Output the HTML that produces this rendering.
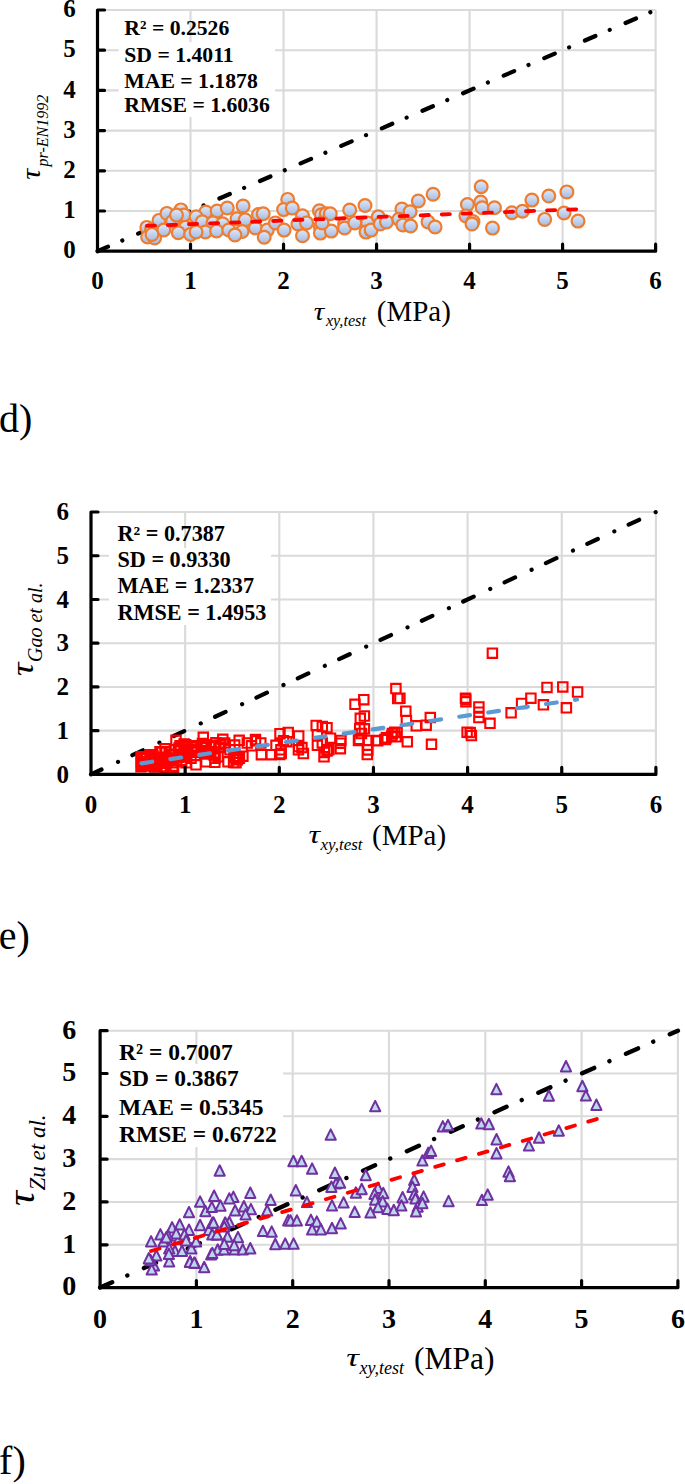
<!DOCTYPE html><html><head><meta charset="utf-8"><style>html,body{margin:0;padding:0;background:#fff;width:685px;height:1484px;overflow:hidden}svg{display:block}text{font-family:"Liberation Serif",serif}</style></head><body>
<svg width="685" height="1484" viewBox="0 0 685 1484">
<defs><linearGradient id="g1" x1="0" y1="0" x2="0" y2="1"><stop offset="0" stop-color="#e2e9f6"/><stop offset="1" stop-color="#a3bbe4"/></linearGradient></defs>
<path d="M190.52 10V251.2M97.5 211H655.62M283.54 10V251.2M97.5 170.8H655.62M376.56 10V251.2M97.5 130.6H655.62M469.58 10V251.2M97.5 90.4H655.62M562.6 10V251.2M97.5 50.2H655.62M655.62 10V251.2M97.5 10H655.62" stroke="#dadada" stroke-width="2.1" fill="none"/>
<rect x="118.6" y="42" width="156.4" height="75" fill="#fff"/>
<path d="M97.5 251.2L655.62 10" stroke="#000" stroke-width="4.2" fill="none" stroke-linecap="round" stroke-dasharray="11.4 15.6 0.01 17.24"/>
<g fill="url(#g1)" stroke="#ed7d31" stroke-width="2.2">
<circle cx="146.8" cy="227.4" r="6.4"/>
<circle cx="151.6" cy="229.6" r="6.4"/>
<circle cx="147.6" cy="237" r="6.4"/>
<circle cx="154.6" cy="237.9" r="6.4"/>
<circle cx="159" cy="220.4" r="6.4"/>
<circle cx="166.9" cy="213.4" r="6.4"/>
<circle cx="163.8" cy="230" r="6.4"/>
<circle cx="172.6" cy="221.3" r="6.4"/>
<circle cx="180.9" cy="209.9" r="6.4"/>
<circle cx="184" cy="215.1" r="6.4"/>
<circle cx="176.5" cy="215.1" r="6.4"/>
<circle cx="185.3" cy="227.4" r="6.4"/>
<circle cx="178.3" cy="232.7" r="6.4"/>
<circle cx="190.6" cy="234.4" r="6.4"/>
<circle cx="152" cy="234.4" r="6.4"/>
<circle cx="205.8" cy="212.1" r="6.4"/>
<circle cx="217.1" cy="211.1" r="6.4"/>
<circle cx="227.3" cy="208" r="6.4"/>
<circle cx="243.1" cy="206" r="6.4"/>
<circle cx="196.1" cy="216.7" r="6.4"/>
<circle cx="202.3" cy="221.8" r="6.4"/>
<circle cx="213" cy="222.8" r="6.4"/>
<circle cx="222.7" cy="223.8" r="6.4"/>
<circle cx="237" cy="218.7" r="6.4"/>
<circle cx="245.2" cy="219.7" r="6.4"/>
<circle cx="205.3" cy="232" r="6.4"/>
<circle cx="216.6" cy="231" r="6.4"/>
<circle cx="228.8" cy="230" r="6.4"/>
<circle cx="242.1" cy="231.5" r="6.4"/>
<circle cx="255.4" cy="227.9" r="6.4"/>
<circle cx="258.5" cy="214.6" r="6.4"/>
<circle cx="196.1" cy="232" r="6.4"/>
<circle cx="235" cy="235" r="6.4"/>
<circle cx="263.2" cy="213.7" r="6.4"/>
<circle cx="287.7" cy="199.4" r="6.4"/>
<circle cx="283.6" cy="209.6" r="6.4"/>
<circle cx="292.3" cy="208.1" r="6.4"/>
<circle cx="267.3" cy="230.1" r="6.4"/>
<circle cx="264.2" cy="237.2" r="6.4"/>
<circle cx="275.4" cy="222.9" r="6.4"/>
<circle cx="284.1" cy="230.1" r="6.4"/>
<circle cx="302.5" cy="215.8" r="6.4"/>
<circle cx="297.9" cy="224" r="6.4"/>
<circle cx="306.6" cy="222.9" r="6.4"/>
<circle cx="302.5" cy="235.7" r="6.4"/>
<circle cx="319.4" cy="210.7" r="6.4"/>
<circle cx="321.4" cy="214.7" r="6.4"/>
<circle cx="320.4" cy="227" r="6.4"/>
<circle cx="320.4" cy="233.1" r="6.4"/>
<circle cx="326.2" cy="213.7" r="6.4"/>
<circle cx="330.3" cy="213.7" r="6.4"/>
<circle cx="331.3" cy="231.1" r="6.4"/>
<circle cx="322.1" cy="222.9" r="6.4"/>
<circle cx="344.6" cy="224" r="6.4"/>
<circle cx="344.6" cy="228" r="6.4"/>
<circle cx="349.7" cy="210.1" r="6.4"/>
<circle cx="354.8" cy="222.9" r="6.4"/>
<circle cx="365" cy="205.5" r="6.4"/>
<circle cx="367.6" cy="222.9" r="6.4"/>
<circle cx="366" cy="232.1" r="6.4"/>
<circle cx="371.1" cy="230.1" r="6.4"/>
<circle cx="378.3" cy="216.8" r="6.4"/>
<circle cx="380.3" cy="223.9" r="6.4"/>
<circle cx="386.5" cy="221.9" r="6.4"/>
<circle cx="401.9" cy="209.1" r="6.4"/>
<circle cx="398.8" cy="219.3" r="6.4"/>
<circle cx="402.9" cy="225" r="6.4"/>
<circle cx="410.1" cy="211.7" r="6.4"/>
<circle cx="410.6" cy="226" r="6.4"/>
<circle cx="418.3" cy="201" r="6.4"/>
<circle cx="433.1" cy="194.3" r="6.4"/>
<circle cx="428" cy="221.9" r="6.4"/>
<circle cx="435.1" cy="227" r="6.4"/>
<circle cx="481.2" cy="186.8" r="6.4"/>
<circle cx="467.4" cy="204.6" r="6.4"/>
<circle cx="480.7" cy="202.1" r="6.4"/>
<circle cx="482.2" cy="207.7" r="6.4"/>
<circle cx="494.5" cy="207.7" r="6.4"/>
<circle cx="465.9" cy="215.9" r="6.4"/>
<circle cx="473" cy="221.5" r="6.4"/>
<circle cx="472" cy="224" r="6.4"/>
<circle cx="492.5" cy="228.1" r="6.4"/>
<circle cx="511.9" cy="212.8" r="6.4"/>
<circle cx="522.5" cy="211.2" r="6.4"/>
<circle cx="531.9" cy="200.1" r="6.4"/>
<circle cx="548.8" cy="196" r="6.4"/>
<circle cx="544.7" cy="219.4" r="6.4"/>
<circle cx="566.9" cy="191.9" r="6.4"/>
<circle cx="564" cy="213" r="6.4"/>
<circle cx="578" cy="221.1" r="6.4"/>
</g>
<path d="M146.8 225.9L576.3 209.3" stroke="#ff0000" stroke-width="3.8" fill="none" stroke-linecap="round" stroke-dasharray="8.2 12.88"/>
<path d="M97.5 10V251.2H655.62M97.5 251.2h7M97.5 251.2v-7M97.5 211h7M190.52 251.2v-7M97.5 170.8h7M283.54 251.2v-7M97.5 130.6h7M376.56 251.2v-7M97.5 90.4h7M469.58 251.2v-7M97.5 50.2h7M562.6 251.2v-7M97.5 10h7M655.62 251.2v-7" stroke="#000" stroke-width="3.2" fill="none" stroke-linecap="round" stroke-linejoin="round"/>
<text x="75.7" y="258.45" font-size="25" font-weight="bold" text-anchor="end">0</text>
<text x="97.5" y="288.55" font-size="25" font-weight="bold" text-anchor="middle">0</text>
<text x="75.7" y="218.25" font-size="25" font-weight="bold" text-anchor="end">1</text>
<text x="190.52" y="288.55" font-size="25" font-weight="bold" text-anchor="middle">1</text>
<text x="75.7" y="178.05" font-size="25" font-weight="bold" text-anchor="end">2</text>
<text x="283.54" y="288.55" font-size="25" font-weight="bold" text-anchor="middle">2</text>
<text x="75.7" y="137.85" font-size="25" font-weight="bold" text-anchor="end">3</text>
<text x="376.56" y="288.55" font-size="25" font-weight="bold" text-anchor="middle">3</text>
<text x="75.7" y="97.65" font-size="25" font-weight="bold" text-anchor="end">4</text>
<text x="469.58" y="288.55" font-size="25" font-weight="bold" text-anchor="middle">4</text>
<text x="75.7" y="57.45" font-size="25" font-weight="bold" text-anchor="end">5</text>
<text x="562.6" y="288.55" font-size="25" font-weight="bold" text-anchor="middle">5</text>
<text x="75.7" y="17.25" font-size="25" font-weight="bold" text-anchor="end">6</text>
<text x="655.62" y="288.55" font-size="25" font-weight="bold" text-anchor="middle">6</text>
<text x="124.3" y="35" font-size="21.7" font-weight="bold">R² = 0.2526</text>
<text x="124.3" y="62" font-size="21.7" font-weight="bold">SD = 1.4011</text>
<text x="124.3" y="87.8" font-size="21.7" font-weight="bold">MAE = 1.1878</text>
<text x="124.3" y="112.3" font-size="21.7" font-weight="bold">RMSE = 1.6036</text>
<path d="M185.15 512.02V774.4M91 730.67H655.9M279.3 512.02V774.4M91 686.94H655.9M373.45 512.02V774.4M91 643.21H655.9M467.6 512.02V774.4M91 599.48H655.9M561.75 512.02V774.4M91 555.75H655.9M655.9 512.02V774.4M91 512.02H655.9" stroke="#dadada" stroke-width="2.1" fill="none"/>
<rect x="109" y="548" width="162" height="77" fill="#fff"/>
<path d="M91 774.4L655.9 512.02" stroke="#000" stroke-width="4.2" fill="none" stroke-linecap="round" stroke-dasharray="11.6 18.2 0.01 15.79"/>
<path d="M136 772L136 761L150 759L160 756L172 753L180 752L190 752L190 762L170 765L150 770Z" fill="#ff0000"/>
<g fill="none" stroke="#ff0000" stroke-width="2.1">
<path d="M148.25 751.16h9.4v9.4h-9.4ZM161.34 746.93h9.4v9.4h-9.4ZM156.74 753.09h9.4v9.4h-9.4ZM137.62 757.9h9.4v9.4h-9.4ZM136.8 757.09h9.4v9.4h-9.4ZM138.09 752.55h9.4v9.4h-9.4ZM152.28 761.29h9.4v9.4h-9.4ZM140.25 753.82h9.4v9.4h-9.4ZM160.4 763.14h9.4v9.4h-9.4ZM158.38 753.38h9.4v9.4h-9.4ZM174.35 743.35h9.4v9.4h-9.4ZM169.64 749.48h9.4v9.4h-9.4ZM141.07 752.24h9.4v9.4h-9.4ZM147.64 761.33h9.4v9.4h-9.4ZM142.53 758.32h9.4v9.4h-9.4ZM160.86 752.56h9.4v9.4h-9.4ZM157.21 747.72h9.4v9.4h-9.4ZM137.68 754.1h9.4v9.4h-9.4ZM162.52 753.34h9.4v9.4h-9.4ZM147.87 757.82h9.4v9.4h-9.4ZM153.43 752.52h9.4v9.4h-9.4ZM167.08 758.1h9.4v9.4h-9.4ZM145.06 757.95h9.4v9.4h-9.4ZM156.31 761.95h9.4v9.4h-9.4ZM164.48 750.36h9.4v9.4h-9.4ZM174.51 744.87h9.4v9.4h-9.4ZM152.02 760.17h9.4v9.4h-9.4ZM141.38 757.19h9.4v9.4h-9.4ZM136.87 759.99h9.4v9.4h-9.4ZM165.88 755.71h9.4v9.4h-9.4ZM170.32 749.86h9.4v9.4h-9.4ZM163.11 756.41h9.4v9.4h-9.4ZM158.5 754.42h9.4v9.4h-9.4ZM168.9 762.97h9.4v9.4h-9.4ZM154.26 758.48h9.4v9.4h-9.4ZM137.73 760.34h9.4v9.4h-9.4ZM161.19 763.97h9.4v9.4h-9.4ZM168.18 749.64h9.4v9.4h-9.4ZM150.73 758.85h9.4v9.4h-9.4ZM136.2 757.52h9.4v9.4h-9.4ZM142.02 752.02h9.4v9.4h-9.4ZM137.66 761.18h9.4v9.4h-9.4ZM140.47 754.1h9.4v9.4h-9.4ZM150.94 762.05h9.4v9.4h-9.4ZM138.52 757.05h9.4v9.4h-9.4ZM157.28 762.06h9.4v9.4h-9.4ZM168.07 761.35h9.4v9.4h-9.4ZM146.44 755.46h9.4v9.4h-9.4ZM149.65 762.29h9.4v9.4h-9.4ZM173.61 745.78h9.4v9.4h-9.4ZM186.93 742.56h9.4v9.4h-9.4ZM190.7 747.64h9.4v9.4h-9.4ZM214.18 742.78h9.4v9.4h-9.4ZM175.57 746.48h9.4v9.4h-9.4ZM199.67 749.22h9.4v9.4h-9.4ZM238.2 751.52h9.4v9.4h-9.4ZM209.32 750.19h9.4v9.4h-9.4ZM219.93 738.34h9.4v9.4h-9.4ZM234.67 753.44h9.4v9.4h-9.4ZM233.02 753.82h9.4v9.4h-9.4ZM201.2 745.77h9.4v9.4h-9.4ZM182.13 750.74h9.4v9.4h-9.4ZM179.41 739.37h9.4v9.4h-9.4ZM189.08 741.12h9.4v9.4h-9.4ZM197.74 738.73h9.4v9.4h-9.4ZM175.32 741.13h9.4v9.4h-9.4ZM182 745.29h9.4v9.4h-9.4ZM176.98 755.58h9.4v9.4h-9.4ZM215.83 740.38h9.4v9.4h-9.4ZM191.95 744.83h9.4v9.4h-9.4ZM199.33 740.14h9.4v9.4h-9.4ZM231.33 757.95h9.4v9.4h-9.4ZM206.06 747.46h9.4v9.4h-9.4ZM180.97 740.04h9.4v9.4h-9.4ZM197.91 743.06h9.4v9.4h-9.4ZM230 740.41h9.4v9.4h-9.4ZM176.82 757.12h9.4v9.4h-9.4ZM210.16 740.44h9.4v9.4h-9.4ZM211.15 737.94h9.4v9.4h-9.4ZM210.16 757.66h9.4v9.4h-9.4ZM232.28 751.68h9.4v9.4h-9.4ZM192.53 745.22h9.4v9.4h-9.4ZM186.32 753.49h9.4v9.4h-9.4ZM210.45 753.53h9.4v9.4h-9.4ZM197.06 742.22h9.4v9.4h-9.4ZM228.86 757.78h9.4v9.4h-9.4ZM231.57 754h9.4v9.4h-9.4ZM229.31 752.62h9.4v9.4h-9.4ZM171.3 735.6h9.4v9.4h-9.4ZM198.6 732.6h9.4v9.4h-9.4ZM218.1 734.6h9.4v9.4h-9.4ZM234.5 735.6h9.4v9.4h-9.4ZM246.8 741.1h9.4v9.4h-9.4ZM250.8 736.1h9.4v9.4h-9.4ZM232.6 755.1h9.4v9.4h-9.4ZM136.3 752.1h9.4v9.4h-9.4ZM136.3 762.1h9.4v9.4h-9.4ZM145.3 750.1h9.4v9.4h-9.4ZM147.3 759.1h9.4v9.4h-9.4ZM155.3 747.1h9.4v9.4h-9.4ZM160.3 744.1h9.4v9.4h-9.4ZM163.3 755.1h9.4v9.4h-9.4ZM182.3 742.1h9.4v9.4h-9.4ZM188.3 747.1h9.4v9.4h-9.4ZM181.3 758.1h9.4v9.4h-9.4ZM191.3 760.1h9.4v9.4h-9.4ZM201.3 757.1h9.4v9.4h-9.4ZM209.3 742.1h9.4v9.4h-9.4ZM213.3 752.1h9.4v9.4h-9.4ZM223.3 757.1h9.4v9.4h-9.4ZM203.3 747.1h9.4v9.4h-9.4ZM225.3 745.1h9.4v9.4h-9.4ZM250.8 734.8h9.4v9.4h-9.4ZM256.1 738.3h9.4v9.4h-9.4ZM242.6 738.3h9.4v9.4h-9.4ZM256.7 750h9.4v9.4h-9.4ZM266.6 750h9.4v9.4h-9.4ZM271.3 740.6h9.4v9.4h-9.4ZM275.3 729h9.4v9.4h-9.4ZM283.5 727.8h9.4v9.4h-9.4ZM278.8 736h9.4v9.4h-9.4ZM276.5 748.8h9.4v9.4h-9.4ZM294 731.3h9.4v9.4h-9.4ZM294 741.8h9.4v9.4h-9.4ZM298.7 748.8h9.4v9.4h-9.4ZM311.5 720.8h9.4v9.4h-9.4ZM312.7 730.1h9.4v9.4h-9.4ZM312.7 740.6h9.4v9.4h-9.4ZM319.7 747.7h9.4v9.4h-9.4ZM322.3 723h9.4v9.4h-9.4ZM317.6 721.8h9.4v9.4h-9.4ZM325.8 733.5h9.4v9.4h-9.4ZM322.3 746.3h9.4v9.4h-9.4ZM317.6 738.2h9.4v9.4h-9.4ZM336.3 735.8h9.4v9.4h-9.4ZM335.7 744h9.4v9.4h-9.4ZM350.3 699.6h9.4v9.4h-9.4ZM359.1 695h9.4v9.4h-9.4ZM359.7 711.3h9.4v9.4h-9.4ZM355.6 713.6h9.4v9.4h-9.4ZM355 724.1h9.4v9.4h-9.4ZM359.7 724.1h9.4v9.4h-9.4ZM353.8 735.8h9.4v9.4h-9.4ZM363.2 745.2h9.4v9.4h-9.4ZM363.2 735.8h9.4v9.4h-9.4ZM371.4 735.8h9.4v9.4h-9.4ZM380.7 734.7h9.4v9.4h-9.4ZM391.2 683.9h9.4v9.4h-9.4ZM393 693.8h9.4v9.4h-9.4ZM392.4 727.7h9.4v9.4h-9.4ZM387.7 728.8h9.4v9.4h-9.4ZM395.2 693.6h9.4v9.4h-9.4ZM401.1 706.5h9.4v9.4h-9.4ZM401.7 715.8h9.4v9.4h-9.4ZM411.6 721.1h9.4v9.4h-9.4ZM421.5 720.5h9.4v9.4h-9.4ZM425.6 712.9h9.4v9.4h-9.4ZM461.2 694.8h9.4v9.4h-9.4ZM461.2 697.1h9.4v9.4h-9.4ZM462.4 727.5h9.4v9.4h-9.4ZM390 727.5h9.4v9.4h-9.4ZM426.8 739.6h9.4v9.4h-9.4ZM402.6 737.1h9.4v9.4h-9.4ZM391.3 732.1h9.4v9.4h-9.4ZM381.7 733.1h9.4v9.4h-9.4ZM487.7 648.5h9.4v9.4h-9.4ZM460.8 693.5h9.4v9.4h-9.4ZM474.2 702.3h9.4v9.4h-9.4ZM474.2 707.5h9.4v9.4h-9.4ZM474.2 712.8h9.4v9.4h-9.4ZM485.3 718.6h9.4v9.4h-9.4ZM465.5 727.9h9.4v9.4h-9.4ZM466.7 730.9h9.4v9.4h-9.4ZM506.4 708.1h9.4v9.4h-9.4ZM516.9 698.7h9.4v9.4h-9.4ZM526.2 693.5h9.4v9.4h-9.4ZM276.2 745.1h9.4v9.4h-9.4ZM275 749.9h9.4v9.4h-9.4ZM282 737h9.4v9.4h-9.4ZM293.7 745.1h9.4v9.4h-9.4ZM297.2 742.9h9.4v9.4h-9.4ZM324 745.1h9.4v9.4h-9.4ZM319.3 752.1h9.4v9.4h-9.4ZM335.8 738.5h9.4v9.4h-9.4ZM356.8 728.8h9.4v9.4h-9.4ZM362.6 745.1h9.4v9.4h-9.4ZM362.6 749.9h9.4v9.4h-9.4ZM354.5 734.7h9.4v9.4h-9.4ZM373.1 736.1h9.4v9.4h-9.4ZM380.1 734.9h9.4v9.4h-9.4ZM387.1 731.2h9.4v9.4h-9.4ZM538.7 700.1h9.4v9.4h-9.4ZM542.3 682.7h9.4v9.4h-9.4ZM558.1 682.2h9.4v9.4h-9.4ZM572.9 687.3h9.4v9.4h-9.4ZM561.7 703.1h9.4v9.4h-9.4Z"/>
</g>
<path d="M141.5 763.3L577 699.5" stroke="#5b9bd5" stroke-width="4.2" fill="none" stroke-linecap="round" stroke-dasharray="10.8 18.4"/>
<path d="M91 512.02V774.4H655.9M91 774.4h7M91 774.4v-7M91 730.67h7M185.15 774.4v-7M91 686.94h7M279.3 774.4v-7M91 643.21h7M373.45 774.4v-7M91 599.48h7M467.6 774.4v-7M91 555.75h7M561.75 774.4v-7M91 512.02h7M655.9 774.4v-7" stroke="#000" stroke-width="3.2" fill="none" stroke-linecap="round" stroke-linejoin="round"/>
<text x="68.9" y="782.65" font-size="25" font-weight="bold" text-anchor="end">0</text>
<text x="91" y="812.65" font-size="25" font-weight="bold" text-anchor="middle">0</text>
<text x="68.9" y="738.92" font-size="25" font-weight="bold" text-anchor="end">1</text>
<text x="185.15" y="812.65" font-size="25" font-weight="bold" text-anchor="middle">1</text>
<text x="68.9" y="695.19" font-size="25" font-weight="bold" text-anchor="end">2</text>
<text x="279.3" y="812.65" font-size="25" font-weight="bold" text-anchor="middle">2</text>
<text x="68.9" y="651.46" font-size="25" font-weight="bold" text-anchor="end">3</text>
<text x="373.45" y="812.65" font-size="25" font-weight="bold" text-anchor="middle">3</text>
<text x="68.9" y="607.73" font-size="25" font-weight="bold" text-anchor="end">4</text>
<text x="467.6" y="812.65" font-size="25" font-weight="bold" text-anchor="middle">4</text>
<text x="68.9" y="564" font-size="25" font-weight="bold" text-anchor="end">5</text>
<text x="561.75" y="812.65" font-size="25" font-weight="bold" text-anchor="middle">5</text>
<text x="68.9" y="520.27" font-size="25" font-weight="bold" text-anchor="end">6</text>
<text x="655.9" y="812.65" font-size="25" font-weight="bold" text-anchor="middle">6</text>
<text x="117.5" y="540.7" font-size="22.2" font-weight="bold">R² = 0.7387</text>
<text x="117.5" y="566.9" font-size="22.2" font-weight="bold">SD = 0.9330</text>
<text x="117.5" y="593.2" font-size="22.2" font-weight="bold">MAE = 1.2337</text>
<text x="117.5" y="619.5" font-size="22.2" font-weight="bold">RMSE = 1.4953</text>
<path d="M196.4 1030.68V1287.6M100.1 1244.78H677.9M292.7 1030.68V1287.6M100.1 1201.96H677.9M389 1030.68V1287.6M100.1 1159.14H677.9M485.3 1030.68V1287.6M100.1 1116.32H677.9M581.6 1030.68V1287.6M100.1 1073.5H677.9M677.9 1030.68V1287.6M100.1 1030.68H677.9" stroke="#dadada" stroke-width="2.1" fill="none"/>
<rect x="104" y="1064" width="179" height="83" fill="#fff"/>
<path d="M100.1 1287.6L677.9 1030.68" stroke="#000" stroke-width="4.4" fill="none" stroke-linecap="round" stroke-dasharray="13.2 16.6 0.01 18.15"/>
<g fill="#bdd7ee" stroke="#7030a0" stroke-width="2" stroke-linejoin="round">
<path d="M151.1 1236.1L156.2 1246.5L146 1246.5Z"/>
<path d="M160.4 1229.1L165.5 1239.5L155.3 1239.5Z"/>
<path d="M163.4 1236.1L168.5 1246.5L158.3 1246.5Z"/>
<path d="M156.4 1250.2L161.5 1260.6L151.3 1260.6Z"/>
<path d="M154 1260.1L159.1 1270.5L148.9 1270.5Z"/>
<path d="M151.7 1264.1L156.8 1274.5L146.6 1274.5Z"/>
<path d="M150.5 1254.8L155.6 1265.2L145.4 1265.2Z"/>
<path d="M172.1 1222.1L177.2 1232.5L167 1232.5Z"/>
<path d="M179.7 1219.2L184.8 1229.6L174.6 1229.6Z"/>
<path d="M178.5 1233.8L183.6 1244.2L173.4 1244.2Z"/>
<path d="M175 1245.5L180.1 1255.9L169.9 1255.9Z"/>
<path d="M169.2 1256L174.3 1266.4L164.1 1266.4Z"/>
<path d="M182 1245.5L187.1 1255.9L176.9 1255.9Z"/>
<path d="M189 1224.5L194.1 1234.9L183.9 1234.9Z"/>
<path d="M189 1206.9L194.1 1217.3L183.9 1217.3Z"/>
<path d="M191.4 1243.1L196.5 1253.5L186.3 1253.5Z"/>
<path d="M190.2 1256L195.3 1266.4L185.1 1266.4Z"/>
<path d="M194.9 1257.7L200 1268.1L189.8 1268.1Z"/>
<path d="M204.2 1261.8L209.3 1272.2L199.1 1272.2Z"/>
<path d="M196.1 1236.1L201.2 1246.5L191 1246.5Z"/>
<path d="M200.1 1219.8L205.2 1230.2L195 1230.2Z"/>
<path d="M200.1 1196.4L205.2 1206.8L195 1206.8Z"/>
<path d="M208.9 1224.5L214 1234.9L203.8 1234.9Z"/>
<path d="M212.4 1217.5L217.5 1227.9L207.3 1227.9Z"/>
<path d="M205.4 1205.8L210.5 1216.2L200.3 1216.2Z"/>
<path d="M211.8 1201.7L216.9 1212.1L206.7 1212.1Z"/>
<path d="M211.2 1249L216.3 1259.4L206.1 1259.4Z"/>
<path d="M217.7 1244.3L222.8 1254.7L212.6 1254.7Z"/>
<path d="M216.5 1229.1L221.6 1239.5L211.4 1239.5Z"/>
<path d="M168 1230.3L173.1 1240.7L162.9 1240.7Z"/>
<path d="M176.2 1228L181.3 1238.4L171.1 1238.4Z"/>
<path d="M184.4 1229.1L189.5 1239.5L179.3 1239.5Z"/>
<path d="M169.2 1243.1L174.3 1253.5L164.1 1253.5Z"/>
<path d="M186.1 1235L191.2 1245.4L181 1245.4Z"/>
<path d="M148.8 1253L153.9 1263.4L143.7 1263.4Z"/>
<path d="M166.3 1232L171.4 1242.4L161.2 1242.4Z"/>
<path d="M168.9 1248.6L174 1259L163.8 1259Z"/>
<path d="M189.9 1256.5L195 1266.9L184.8 1266.9Z"/>
<path d="M194.3 1257.4L199.4 1267.8L189.2 1267.8Z"/>
<path d="M214.1 1190.5L219.2 1200.9L209 1200.9Z"/>
<path d="M233.4 1191.6L238.5 1202L228.3 1202Z"/>
<path d="M250.3 1187.5L255.4 1197.9L245.2 1197.9Z"/>
<path d="M220.5 1200.4L225.6 1210.8L215.4 1210.8Z"/>
<path d="M235.1 1205.1L240.2 1215.5L230 1215.5Z"/>
<path d="M243.9 1201L249 1211.4L238.8 1211.4Z"/>
<path d="M250.9 1203.9L256 1214.3L245.8 1214.3Z"/>
<path d="M245.6 1209.1L250.7 1219.5L240.5 1219.5Z"/>
<path d="M270.7 1194.5L275.8 1204.9L265.6 1204.9Z"/>
<path d="M267.2 1205.1L272.3 1215.5L262.1 1215.5Z"/>
<path d="M213.5 1217.3L218.6 1227.7L208.4 1227.7Z"/>
<path d="M229.3 1216.7L234.4 1227.1L224.2 1227.1Z"/>
<path d="M225.2 1217.3L230.3 1227.7L220.1 1227.7Z"/>
<path d="M212.3 1229L217.4 1239.4L207.2 1239.4Z"/>
<path d="M217 1229L222.1 1239.4L211.9 1239.4Z"/>
<path d="M227.5 1231.3L232.6 1241.7L222.4 1241.7Z"/>
<path d="M238 1231.9L243.1 1242.3L232.9 1242.3Z"/>
<path d="M224 1244.2L229.1 1254.6L218.9 1254.6Z"/>
<path d="M234.5 1244.2L239.6 1254.6L229.4 1254.6Z"/>
<path d="M242.7 1244.2L247.8 1254.6L237.6 1254.6Z"/>
<path d="M250.3 1243L255.4 1253.4L245.2 1253.4Z"/>
<path d="M212.3 1247.7L217.4 1258.1L207.2 1258.1Z"/>
<path d="M262.9 1225.7L268 1236.1L257.8 1236.1Z"/>
<path d="M271.7 1226.4L276.8 1236.8L266.6 1236.8Z"/>
<path d="M275.3 1238.8L280.4 1249.2L270.2 1249.2Z"/>
<path d="M285.2 1238.4L290.3 1248.8L280.1 1248.8Z"/>
<path d="M293.6 1238.4L298.7 1248.8L288.5 1248.8Z"/>
<path d="M288.2 1215L293.3 1225.4L283.1 1225.4Z"/>
<path d="M219.7 1165.3L224.8 1175.7L214.6 1175.7Z"/>
<path d="M229.3 1193.2L234.4 1203.6L224.2 1203.6Z"/>
<path d="M293.4 1155.8L298.5 1166.2L288.3 1166.2Z"/>
<path d="M301.6 1155.8L306.7 1166.2L296.5 1166.2Z"/>
<path d="M312.1 1163.4L317.2 1173.8L307 1173.8Z"/>
<path d="M334.9 1167.5L340 1177.9L329.8 1177.9Z"/>
<path d="M336.1 1178L341.2 1188.4L331 1188.4Z"/>
<path d="M340.1 1177.4L345.2 1187.8L335 1187.8Z"/>
<path d="M331.4 1181.5L336.5 1191.9L326.3 1191.9Z"/>
<path d="M295.8 1185L300.9 1195.4L290.7 1195.4Z"/>
<path d="M306.9 1196.7L312 1207.1L301.8 1207.1Z"/>
<path d="M332 1200.2L337.1 1210.6L326.9 1210.6Z"/>
<path d="M343.6 1197.2L348.7 1207.6L338.5 1207.6Z"/>
<path d="M355.9 1187.3L361 1197.7L350.8 1197.7Z"/>
<path d="M354.7 1206.6L359.8 1217L349.6 1217Z"/>
<path d="M290.5 1215.2L295.6 1225.6L285.4 1225.6Z"/>
<path d="M296.9 1215.2L302 1225.6L291.8 1225.6Z"/>
<path d="M310.9 1214.6L316 1225L305.8 1225Z"/>
<path d="M316.8 1216.4L321.9 1226.8L311.7 1226.8Z"/>
<path d="M312.1 1224L317.2 1234.4L307 1234.4Z"/>
<path d="M320.9 1224L326 1234.4L315.8 1234.4Z"/>
<path d="M332 1222.8L337.1 1233.2L326.9 1233.2Z"/>
<path d="M340.7 1218.1L345.8 1228.5L335.6 1228.5Z"/>
<path d="M365.8 1169.8L370.9 1180.2L360.7 1180.2Z"/>
<path d="M422.4 1155.2L427.5 1165.6L417.3 1165.6Z"/>
<path d="M428.2 1147.6L433.3 1158L423.1 1158Z"/>
<path d="M361.7 1183.8L366.8 1194.2L356.6 1194.2Z"/>
<path d="M378 1182.6L383.1 1193L372.9 1193Z"/>
<path d="M374.5 1188.5L379.6 1198.9L369.4 1198.9Z"/>
<path d="M383.3 1187.9L388.4 1198.3L378.2 1198.3Z"/>
<path d="M375.1 1194.3L380.2 1204.7L370 1204.7Z"/>
<path d="M382.7 1196.1L387.8 1206.5L377.6 1206.5Z"/>
<path d="M378 1201.9L383.1 1212.3L372.9 1212.3Z"/>
<path d="M370.4 1207.2L375.5 1217.6L365.3 1217.6Z"/>
<path d="M387.4 1203.7L392.5 1214.1L382.3 1214.1Z"/>
<path d="M393.8 1204.8L398.9 1215.2L388.7 1215.2Z"/>
<path d="M402.6 1192L407.7 1202.4L397.5 1202.4Z"/>
<path d="M401.4 1200.2L406.5 1210.6L396.3 1210.6Z"/>
<path d="M414.2 1174.5L419.3 1184.9L409.1 1184.9Z"/>
<path d="M412.5 1181.5L417.6 1191.9L407.4 1191.9Z"/>
<path d="M414.2 1189.1L419.3 1199.5L409.1 1199.5Z"/>
<path d="M415.4 1193.2L420.5 1203.6L410.3 1203.6Z"/>
<path d="M423.6 1191.4L428.7 1201.8L418.5 1201.8Z"/>
<path d="M417.7 1201.3L422.8 1211.7L412.6 1211.7Z"/>
<path d="M416 1206L421.1 1216.4L410.9 1216.4Z"/>
<path d="M422.4 1197.8L427.5 1208.2L417.3 1208.2Z"/>
<path d="M442.8 1121.1L447.9 1131.5L437.7 1131.5Z"/>
<path d="M448 1119.9L453.1 1130.3L442.9 1130.3Z"/>
<path d="M481.3 1118.2L486.4 1128.6L476.2 1128.6Z"/>
<path d="M488.9 1118.8L494 1129.2L483.8 1129.2Z"/>
<path d="M496.5 1134L501.6 1144.4L491.4 1144.4Z"/>
<path d="M496.5 1148L501.6 1158.4L491.4 1158.4Z"/>
<path d="M431.1 1145.6L436.2 1156L426 1156Z"/>
<path d="M448.6 1195.9L453.7 1206.3L443.5 1206.3Z"/>
<path d="M481.9 1194.7L487 1205.1L476.8 1205.1Z"/>
<path d="M487.7 1189.4L492.8 1199.8L482.6 1199.8Z"/>
<path d="M496.4 1083.9L501.5 1094.3L491.3 1094.3Z"/>
<path d="M548.9 1090.3L554 1100.7L543.8 1100.7Z"/>
<path d="M539 1132.3L544.1 1142.7L533.9 1142.7Z"/>
<path d="M558.8 1125.3L563.9 1135.7L553.7 1135.7Z"/>
<path d="M566 1061L571.1 1071.4L560.9 1071.4Z"/>
<path d="M582.4 1080.8L587.5 1091.2L577.3 1091.2Z"/>
<path d="M585.9 1090.2L591 1100.6L580.8 1100.6Z"/>
<path d="M596.4 1099.5L601.5 1109.9L591.3 1109.9Z"/>
<path d="M375.2 1100.9L380.3 1111.3L370.1 1111.3Z"/>
<path d="M330.7 1129.4L335.8 1139.8L325.6 1139.8Z"/>
<path d="M224.3 1221.2L229.4 1231.6L219.2 1231.6Z"/>
<path d="M234.2 1239.9L239.3 1250.3L229.1 1250.3Z"/>
<path d="M224.3 1238.6L229.4 1249L219.2 1249Z"/>
<path d="M528.9 1140.2L534 1150.6L523.8 1150.6Z"/>
<path d="M508.5 1166.4L513.6 1176.8L503.4 1176.8Z"/>
<path d="M509.9 1170.8L515 1181.2L504.8 1181.2Z"/>
</g>
<path d="M151 1251L597 1119" stroke="#ff0000" stroke-width="3.8" fill="none" stroke-linecap="round" stroke-dasharray="8.9 13.9"/>
<path d="M100.1 1030.68V1287.6H677.9M100.1 1287.6h7M100.1 1287.6v-7M100.1 1244.78h7M196.4 1287.6v-7M100.1 1201.96h7M292.7 1287.6v-7M100.1 1159.14h7M389 1287.6v-7M100.1 1116.32h7M485.3 1287.6v-7M100.1 1073.5h7M581.6 1287.6v-7M100.1 1030.68h7M677.9 1287.6v-7" stroke="#000" stroke-width="3.2" fill="none" stroke-linecap="round" stroke-linejoin="round"/>
<text x="76.2" y="1295.44" font-size="28" font-weight="bold" text-anchor="end">0</text>
<text x="100.1" y="1328.04" font-size="28" font-weight="bold" text-anchor="middle">0</text>
<text x="76.2" y="1252.62" font-size="28" font-weight="bold" text-anchor="end">1</text>
<text x="196.4" y="1328.04" font-size="28" font-weight="bold" text-anchor="middle">1</text>
<text x="76.2" y="1209.8" font-size="28" font-weight="bold" text-anchor="end">2</text>
<text x="292.7" y="1328.04" font-size="28" font-weight="bold" text-anchor="middle">2</text>
<text x="76.2" y="1166.98" font-size="28" font-weight="bold" text-anchor="end">3</text>
<text x="389" y="1328.04" font-size="28" font-weight="bold" text-anchor="middle">3</text>
<text x="76.2" y="1124.16" font-size="28" font-weight="bold" text-anchor="end">4</text>
<text x="485.3" y="1328.04" font-size="28" font-weight="bold" text-anchor="middle">4</text>
<text x="76.2" y="1081.34" font-size="28" font-weight="bold" text-anchor="end">5</text>
<text x="581.6" y="1328.04" font-size="28" font-weight="bold" text-anchor="middle">5</text>
<text x="76.2" y="1038.52" font-size="28" font-weight="bold" text-anchor="end">6</text>
<text x="677.9" y="1328.04" font-size="28" font-weight="bold" text-anchor="middle">6</text>
<text x="119" y="1060" font-size="23.5" font-weight="bold">R² = 0.7007</text>
<text x="119" y="1086" font-size="23.5" font-weight="bold">SD = 0.3867</text>
<text x="119" y="1114.7" font-size="23.5" font-weight="bold">MAE = 0.5345</text>
<text x="119" y="1141.5" font-size="23.5" font-weight="bold">RMSE = 0.6722</text>
<text transform="translate(40.42 179.77) rotate(-90) scale(1.055 0.978)" font-size="29" font-style="italic">&#964;</text>
<text transform="translate(47.9 166.5) rotate(-90)" font-size="16" font-style="italic">pr-EN1992</text>
<text transform="translate(32.58 676.02) rotate(-90) scale(1.17 0.986)" font-size="32" font-style="italic">&#964;</text>
<text transform="translate(41.6 662) rotate(-90)" font-size="20" font-style="italic">Gao et al.</text>
<text transform="translate(34.13 1206.03) rotate(-90) scale(1.169 1.03)" font-size="36" font-style="italic">&#964;</text>
<text transform="translate(45.3 1190.5) rotate(-90)" font-size="23" font-style="italic">Zu et al.</text>
<text transform="translate(313.86 319.74) scale(1.044 0.914)" font-size="28" font-style="italic">&#964;</text>
<text x="325.9" y="325.7" font-size="16.2" font-style="italic">xy,test</text>
<text x="376.8" y="321" font-size="29">(MPa)</text>
<text transform="translate(308.49 843.45) scale(1.151 0.899)" font-size="28" font-style="italic">&#964;</text>
<text x="320.5" y="849.5" font-size="17" font-style="italic">xy,test</text>
<text x="372" y="845" font-size="29">(MPa)</text>
<text transform="translate(346.32 1365.74) scale(1.137 0.832)" font-size="31" font-style="italic">&#964;</text>
<text x="359.5" y="1374" font-size="18" font-style="italic">xy,test</text>
<text x="414" y="1369" font-size="31.5">(MPa)</text>
<text x="-1" y="431.8" font-size="40">d)</text>
<text x="-1.2" y="948.7" font-size="40">e)</text>
<text x="-0.9" y="1474.2" font-size="40">f)</text>
</svg></body></html>
